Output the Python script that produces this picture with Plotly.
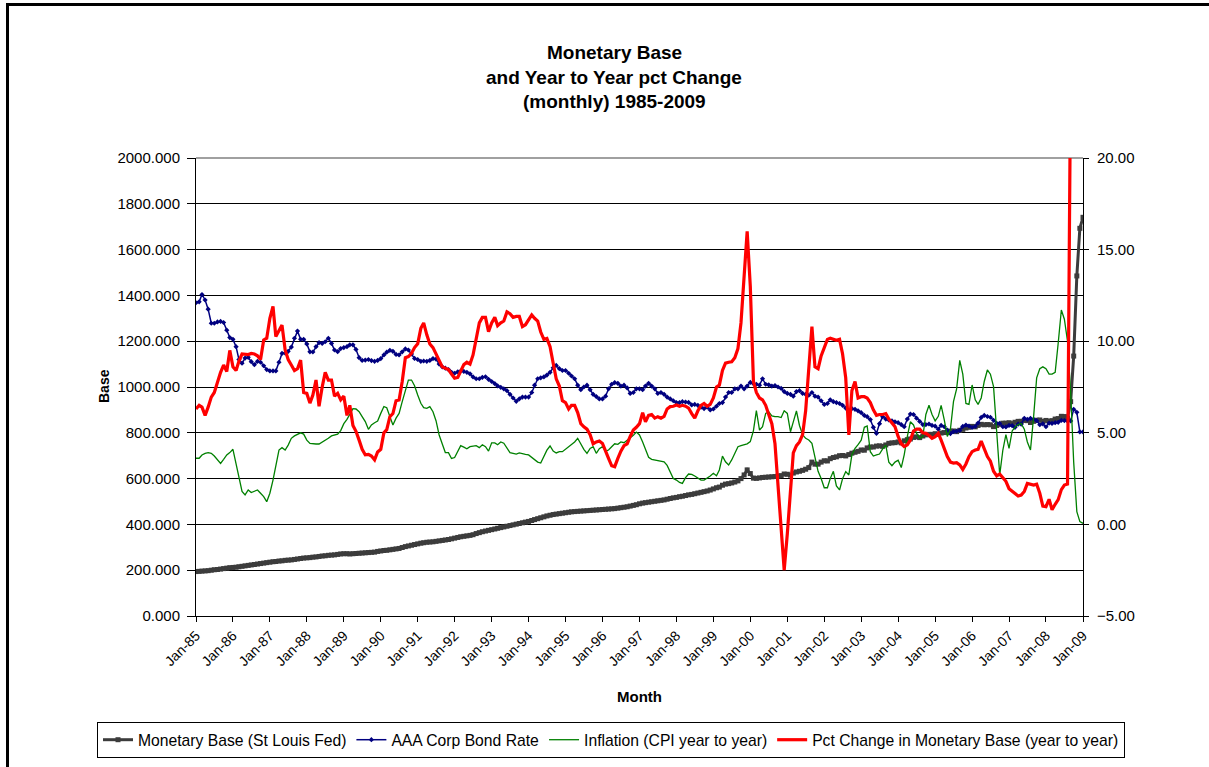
import pandas as pd
import plotly.graph_objects as go

# ---------------- data (monthly, Jan-1985 .. Jan-2009) ----------------
months = pd.date_range("1985-01-01", "2009-01-01", freq="MS")

monetary_base = [
    194, 195, 196, 197, 198, 200, 202, 203, 205, 207, 209, 211,   # 1985
    212, 213, 215, 217, 219, 221, 223, 225, 227, 229, 231, 233,   # 1986
    235, 237, 238, 240, 241, 243, 244, 245, 247, 249, 251, 253,   # 1987
    254, 255, 257, 258, 260, 262, 263, 265, 266, 267, 269, 271,   # 1988
    272, 272, 271, 272, 273, 274, 275, 276, 277, 278, 279, 282,   # 1989
    284, 286, 287, 289, 291, 293, 295, 299, 303, 306, 309, 312,   # 1990
    315, 318, 320, 322, 323, 324, 326, 328, 330, 332, 334, 337,   # 1991
    340, 343, 346, 348, 350, 352, 355, 360, 364, 368, 371, 374,   # 1992
    377, 380, 383, 386, 389, 392, 395, 398, 401, 404, 407, 410,   # 1993
    413, 417, 421, 425, 429, 433, 437, 440, 443, 445, 447, 449,   # 1994
    451, 453, 455, 456, 457, 458, 459, 460, 461, 462, 463, 464,   # 1995
    465, 466, 467, 468, 469, 471, 473, 475, 477, 480, 483, 486,   # 1996
    490, 493, 495, 497, 499, 501, 503, 505, 507, 510, 513, 516,   # 1997
    518, 521, 523, 526, 529, 531, 534, 537, 540, 543, 546, 550,   # 1998
    555, 560, 563, 571, 576, 578, 581, 585, 590, 600, 616, 638,   # 1999
    622, 602, 601, 603, 605, 606, 607, 608, 609, 611, 613, 620,   # 2000
    619, 615, 624, 629, 632, 636, 641, 648, 672, 663, 663, 672,   # 2001
    678, 677, 687, 692, 695, 700, 701, 699, 705, 711, 715, 719,   # 2002
    725, 724, 734, 738, 738, 742, 743, 741, 747, 754, 756, 757,   # 2003
    760, 756, 765, 770, 773, 780, 782, 779, 786, 791, 793, 793,   # 2004
    796, 793, 799, 801, 802, 807, 808, 805, 811, 815, 821, 824,   # 2005
    828, 826, 832, 837, 835, 836, 835, 827, 832, 837, 842, 842,   # 2006
    844, 840, 846, 850, 850, 854, 853, 845, 850, 855, 856, 850,   # 2007
    854, 851, 853, 860, 862, 872, 871, 864, 936, 1135, 1485, 1693,  # 2008
    1741,                                                          # 2009
]

aaa_rate = [
    12.1, 12.15, 12.55, 12.25, 11.75, 10.98, 10.98, 11.05, 11.08, 11.02, 10.6, 10.2,
    10.1, 9.7, 9.0, 8.8, 9.08, 9.12, 8.88, 8.72, 8.9, 8.85, 8.66, 8.45,
    8.38, 8.38, 8.38, 8.85, 9.33, 9.35, 9.45, 9.68, 10.16, 10.55, 10.1, 10.1,
    9.85, 9.42, 9.41, 9.7, 9.92, 9.88, 9.97, 10.16, 9.88, 9.52, 9.43, 9.6,
    9.65, 9.7, 9.8, 9.8, 9.55, 9.1, 8.95, 8.97, 9.0, 8.94, 8.9, 8.95,
    9.05, 9.25, 9.4, 9.5, 9.45, 9.28, 9.25, 9.42, 9.58, 9.52, 9.3, 9.06,
    9.0, 8.9, 8.92, 8.9, 8.95, 9.05, 9.02, 8.75, 8.6, 8.53, 8.45, 8.3,
    8.25, 8.33, 8.37, 8.35, 8.3, 8.22, 8.05, 7.95, 7.95, 8.03, 8.06, 7.92,
    7.8, 7.68, 7.56, 7.48, 7.4, 7.3, 7.1, 6.9, 6.72, 6.85, 6.95, 6.95,
    6.95, 7.2, 7.6, 7.95, 8.0, 8.05, 8.15, 8.3, 8.55, 8.68, 8.5, 8.4,
    8.4, 8.25, 8.1, 7.95, 7.6, 7.35, 7.5, 7.6, 7.35, 7.1, 6.98, 6.85,
    6.85, 7.0, 7.4, 7.65, 7.74, 7.7, 7.55, 7.6, 7.45, 7.15, 7.2, 7.4,
    7.4, 7.35, 7.55, 7.7, 7.55, 7.4, 7.15, 7.2, 7.1, 6.95, 6.85, 6.75,
    6.65, 6.65, 6.7, 6.68, 6.66, 6.52, 6.55, 6.5, 6.4, 6.32, 6.4, 6.25,
    6.3, 6.45, 6.6, 6.65, 6.95, 7.2, 7.2, 7.4, 7.4, 7.55, 7.4, 7.55,
    7.75, 7.68, 7.65, 7.6, 7.95, 7.65, 7.62, 7.55, 7.58, 7.5, 7.42, 7.25,
    7.15, 7.1, 7.0, 7.25, 7.3, 7.15, 7.1, 7.05, 7.2, 7.0, 6.95, 6.75,
    6.55, 6.6, 6.8, 6.7, 6.65, 6.6, 6.5, 6.35, 6.15, 6.32, 6.28, 6.2,
    6.1, 5.95, 5.88, 5.72, 5.3, 4.97, 5.5, 5.88, 5.75, 5.7, 5.65, 5.6,
    5.55, 5.45, 5.33, 5.75, 6.02, 6.0, 5.8, 5.62, 5.45, 5.45, 5.48, 5.4,
    5.36, 5.2, 5.4, 5.33, 5.15, 4.96, 5.06, 5.09, 5.13, 5.35, 5.42, 5.37,
    5.29, 5.35, 5.53, 5.84, 5.95, 5.89, 5.85, 5.68, 5.51, 5.51, 5.33, 5.32,
    5.4, 5.39, 5.3, 5.47, 5.47, 5.79, 5.73, 5.79, 5.74, 5.66, 5.44, 5.49,
    5.33, 5.53, 5.51, 5.55, 5.57, 5.68, 5.67, 5.64, 5.65, 6.28, 6.12, 5.05,
    5.05,
]

inflation = [
    3.61, 3.61, 3.79, 3.88, 3.92, 3.88, 3.73, 3.52, 3.33, 3.55, 3.79, 3.92,
    4.1, 3.3, 2.5, 1.8, 1.61, 1.88, 1.74, 1.79, 1.88, 1.7, 1.52, 1.24,
    1.7, 2.42, 3.15, 4.06, 4.19, 4.06, 4.33, 4.7, 4.83, 4.93, 5.0, 4.93,
    4.6, 4.42, 4.39, 4.39, 4.39, 4.48, 4.61, 4.7, 4.83, 4.88, 4.93, 5.12,
    5.5, 5.73, 6.03, 6.32, 6.3, 6.15, 5.88, 5.61, 5.19, 5.43, 5.55, 5.64,
    6.06, 6.43, 6.37, 5.9, 5.43, 5.8, 6.06, 6.7, 7.37, 7.88, 7.88, 7.57,
    7.06, 6.61, 6.37, 6.33, 6.43, 6.15, 5.66, 4.88, 4.39, 3.92, 3.92, 3.6,
    3.65, 3.97, 4.3, 4.22, 4.13, 4.24, 4.28, 4.3, 4.19, 4.35, 4.24, 4.0,
    4.45, 4.45, 4.35, 4.5, 4.43, 4.15, 3.92, 3.88, 3.84, 3.9, 3.84, 3.82,
    3.79, 3.66, 3.52, 3.4, 3.35, 3.7, 4.05, 4.28, 4.0, 3.9, 3.97, 3.97,
    4.1, 4.21, 4.33, 4.5, 4.7, 4.39, 4.1, 3.88, 4.15, 4.24, 3.88, 4.13,
    4.24, 4.0, 4.06, 4.24, 4.4, 4.37, 4.5, 4.46, 4.59, 4.68, 4.86, 5.04,
    4.88, 4.5, 4.1, 3.66, 3.55, 3.52, 3.48, 3.46, 3.41, 3.22, 2.88, 2.51,
    2.42, 2.29, 2.24, 2.55, 2.75, 2.73, 2.64, 2.51, 2.42, 2.42, 2.51, 2.64,
    2.79, 2.66, 2.97, 3.73, 3.42, 3.24, 3.52, 3.84, 4.24, 4.3, 4.33, 4.4,
    4.52, 5.12, 6.21, 5.15, 5.33, 6.06, 6.15, 5.92, 5.88, 5.88, 5.83, 6.2,
    6.06, 5.06, 5.6, 6.19, 5.4, 4.9, 4.7, 4.61, 4.43, 3.6, 2.9, 2.5,
    2.0, 2.0, 2.5, 2.9, 2.1, 1.88, 2.5, 2.88, 2.7, 3.8, 4.15, 4.35,
    4.6, 5.3, 5.37, 3.97, 3.73, 3.79, 3.84, 4.12, 4.33, 3.4, 3.2, 3.4,
    3.5, 3.1, 3.8, 4.8, 5.6, 5.43, 4.97, 4.7, 4.79, 6.0, 6.5, 6.0,
    5.65, 5.9, 6.5, 5.7, 4.8, 5.2, 6.7, 7.4, 8.95, 8.2, 6.6, 6.55,
    7.61, 6.8, 6.55, 6.9, 7.8, 8.43, 8.2, 7.52, 5.3, 2.7, 4.06, 4.9,
    4.15, 5.1, 5.3, 5.45, 5.5, 5.2, 4.5, 4.06, 5.88, 8.0, 8.5, 8.6,
    8.5, 8.2, 8.2, 8.3, 9.9, 11.7, 11.2, 10.0, 7.2, 3.4, 0.7, 0.15,
    0.06,
]

pct_change_base = [
    6.3, 6.5, 6.4, 5.95, 6.4, 6.95, 7.2, 7.8, 8.3, 8.7, 8.35, 9.5,
    8.6, 8.4, 8.9, 9.3, 9.27, 9.27, 9.33, 9.3, 9.2, 9.0, 10.07, 10.16,
    11.25, 11.9, 10.25, 10.6, 10.88, 9.52, 9.0, 8.7, 8.4, 8.5, 8.97, 7.2,
    7.15, 6.62, 7.06, 7.88, 6.45, 7.5, 8.3, 7.88, 7.88, 7.0, 7.15, 6.8,
    7.0, 5.95, 6.5, 5.4, 5.08, 4.6, 4.1, 3.8, 3.82, 3.73, 3.52, 3.95,
    4.1, 5.0, 5.17, 5.88, 6.05, 6.75, 6.79, 7.8, 9.1, 9.16, 9.34, 9.65,
    9.86, 10.7, 11.0, 10.35, 9.85, 9.65, 9.3, 9.0, 8.6, 8.52, 8.45, 8.21,
    7.98, 8.02, 8.35, 8.72, 8.85, 8.75, 9.25, 10.25, 11.0, 11.3, 11.3, 10.52,
    11.0, 11.3, 10.85, 11.0, 11.1, 11.6, 11.5, 11.3, 11.35, 11.35, 10.8, 10.9,
    11.16, 11.43, 11.25, 11.1, 10.5, 10.1, 10.15, 9.7, 8.8, 7.95, 7.55, 6.75,
    6.65, 6.3, 6.5, 6.5, 6.1, 5.5, 5.33, 5.2, 4.9, 4.4, 4.5, 4.55,
    4.42, 4.05, 3.6, 3.2, 3.15, 3.6, 4.0, 4.3, 4.4, 4.8, 5.15, 5.3,
    5.5, 6.1, 5.6, 5.95, 6.0, 5.8, 5.88, 5.8, 5.9, 6.3, 6.43, 6.45,
    6.52, 6.45, 6.5, 6.45, 6.35, 6.05, 5.8, 6.2, 6.5, 6.6, 6.45, 6.55,
    6.9, 7.5, 7.6, 8.4, 8.8, 8.85, 8.88, 9.1, 9.6, 11.0, 13.3, 16.0,
    13.0, 7.8, 7.2, 6.9, 6.8, 6.5, 6.0, 5.5, 4.4, 2.0, -0.2, -2.5,
    -0.5, 1.9, 3.9, 4.3, 4.5, 4.9, 6.2, 8.5, 10.8, 8.6, 8.5, 9.2,
    9.7, 10.1, 10.16, 10.1, 10.05, 10.1, 9.3, 8.0, 4.88, 7.3, 7.8, 6.9,
    6.97, 6.97, 6.9, 6.65, 6.25, 5.95, 6.0, 6.0, 6.05, 5.75, 5.5, 5.33,
    4.8, 4.4, 4.25, 4.35, 4.6, 5.1, 5.2, 5.2, 5.0, 4.97, 4.85, 4.7,
    4.79, 4.97, 4.6, 4.1, 3.7, 3.4, 3.35, 3.37, 3.25, 3.0, 3.3, 3.7,
    3.97, 4.06, 4.1, 4.55, 4.15, 3.7, 3.45, 2.9, 2.65, 2.75, 2.55, 2.35,
    1.95, 1.8, 1.7, 1.55, 1.6, 1.8, 2.24, 2.2, 2.15, 2.2, 1.7, 1.0,
    0.97, 1.37, 0.8, 1.1, 1.35, 1.9, 2.15, 2.2, 25.0, 38.0, 72.0, 100.0,
    108.0,
]

series_names = [
    "Monetary Base (St Louis Fed)",
    "AAA Corp Bond Rate",
    "Inflation (CPI year to year)",
    "Pct Change in Monetary Base (year to year)",
]
chart_title = ["Monetary Base", "and Year to Year pct Change", "(monthly) 1985-2009"]

for name, s in [("base", monetary_base), ("aaa", aaa_rate), ("infl", inflation), ("pct", pct_change_base)]:
    if len(s) != len(months):
        raise ValueError(f"{name}: {len(s)} values, expected {len(months)}")

# ---------------- geometry ----------------
W, H = 1209, 767
PL, PR, PT, PB = 196, 1083, 158, 616          # plot area in pixels
PW, PH = PR - PL, PB - PT


def px(x):
    return (x - PL) / PW


def py(y):
    return (PB - y) / PH


FONT = "Liberation Sans, Arial, sans-serif"

fig = go.Figure()
fig.add_trace(go.Scatter(
    x=months, y=monetary_base, name=series_names[0], mode="lines+markers",
    line=dict(color="#3c3c3c", width=3),
    marker=dict(symbol="square", size=5, color="#3c3c3c"),
    yaxis="y"))
fig.add_trace(go.Scatter(
    x=months, y=aaa_rate, name=series_names[1], mode="lines+markers",
    line=dict(color="#000080", width=1.5),
    marker=dict(symbol="diamond", size=4, color="#000080"),
    yaxis="y2"))
fig.add_trace(go.Scatter(
    x=months, y=inflation, name=series_names[2], mode="lines",
    line=dict(color="#008000", width=1.3),
    yaxis="y2"))
fig.add_trace(go.Scatter(
    x=months, y=pct_change_base, name=series_names[3], mode="lines",
    line=dict(color="#ff0000", width=3.2),
    yaxis="y2"))

fig.update_layout(
    width=W, height=H,
    margin=dict(l=PL, r=W - PR, t=PT, b=H - PB, autoexpand=False),
    paper_bgcolor="white", plot_bgcolor="white",
    font=dict(family=FONT, size=15, color="black"),
    showlegend=True,
    legend=dict(orientation="h", x=px(97), xanchor="left", y=py(722), yanchor="top",
                bordercolor="black", borderwidth=1, font=dict(size=15.7, family=FONT),
                itemwidth=30, tracegroupgap=0),
    xaxis=dict(type="date", range=[months[0], months[-1]],
               tick0="1985-01-01", dtick="M12", tickformat="%b-%y", tickangle=-45,
               ticks="outside", ticklen=5, tickcolor="black",
               showline=True, linecolor="black", linewidth=1,
               showgrid=False, zeroline=False, tickfont=dict(size=14)),
    yaxis=dict(range=[0, 2000], dtick=200, tick0=0, tickformat=".3f",
               ticks="outside", ticklen=8, tickcolor="black", ticklabelstandoff=4,
               showline=True, linecolor="black", linewidth=1,
               showgrid=True, gridcolor="black", gridwidth=1, zeroline=False,
               tickfont=dict(size=15)),
    yaxis2=dict(range=[-5, 20], dtick=5, tick0=-5, tickformat=".2f",
                overlaying="y", side="right",
                ticks="outside", ticklen=5, tickcolor="black", ticklabelstandoff=5,
                showline=True, linecolor="black", linewidth=1,
                showgrid=False, zeroline=False, tickfont=dict(size=15)),
)

# title lines
for txt, yy in zip(chart_title, [53, 77, 101]):
    fig.add_annotation(text=f"<b>{txt}</b>", xref="paper", yref="paper",
                       x=px(614), y=py(yy), xanchor="center", yanchor="middle",
                       showarrow=False, font=dict(size=19, family=FONT))

# axis titles
fig.add_annotation(text="<b>Base</b>", xref="paper", yref="paper",
                   x=px(104), y=py(386), xanchor="center", yanchor="middle",
                   textangle=-90, showarrow=False, font=dict(size=14, family=FONT))
fig.add_annotation(text="<b>Month</b>", xref="paper", yref="paper",
                   x=px(639), y=py(696), xanchor="center", yanchor="middle",
                   showarrow=False, font=dict(size=15, family=FONT))

# outer chart frame and grey top border of the plot area
fig.add_shape(type="rect", xref="paper", yref="paper",
              x0=px(7.5), x1=px(1225), y0=py(790), y1=py(4.5),
              line=dict(color="black", width=3), layer="above")
fig.add_shape(type="line", xref="paper", yref="paper",
              x0=0, x1=1, y0=1, y1=1, line=dict(color="#808080", width=1.5), layer="between")

fig.write_html("out.html", include_plotlyjs=True, full_html=True,
               config={"displayModeBar": False},
               post_script="document.body.style.margin='0';document.body.style.overflow='hidden';")
